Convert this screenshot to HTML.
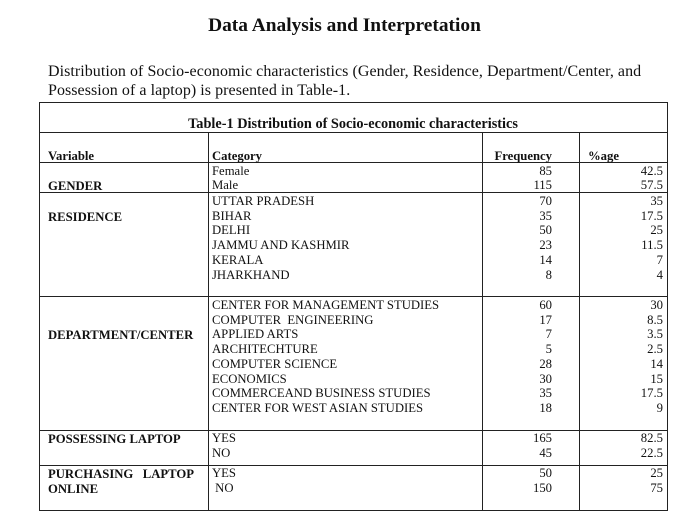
<!DOCTYPE html>
<html><head><meta charset="utf-8"><style>
body{margin:0;width:689px;height:521px;background:#fff;position:relative;font-family:"Liberation Serif",serif;color:#111;overflow:hidden}
.a{position:absolute;white-space:nowrap;line-height:1}
.t{font-size:12.7px}
.b{font-weight:bold}
.r{text-align:right}
.hl{position:absolute;height:1px;background:#222}
.vl{position:absolute;width:1px;background:#222}
</style></head><body>
<div class="a b" style="left:0;width:689px;text-align:center;top:16px;font-size:19.4px">Data Analysis and Interpretation</div>
<div class="a" style="left:48px;top:62px;font-size:16px;line-height:19px;white-space:normal;width:615px;letter-spacing:0.05px">Distribution of Socio-economic characteristics (Gender, Residence, Department/Center, and<br>Possession of a laptop) is presented in Table-1.</div>

<div>
<div class="hl" style="left:39px;width:629px;top:102px"></div>
<div class="hl" style="left:39px;width:629px;top:132px"></div>
<div class="hl" style="left:39px;width:629px;top:162px"></div>
<div class="hl" style="left:39px;width:629px;top:192px"></div>
<div class="hl" style="left:39px;width:629px;top:296px"></div>
<div class="hl" style="left:39px;width:629px;top:430px"></div>
<div class="hl" style="left:39px;width:629px;top:465px"></div>
<div class="hl" style="left:39px;width:629px;top:510px"></div>
<div class="vl" style="left:39px;top:102px;height:409px"></div>
<div class="vl" style="left:667px;top:102px;height:409px"></div>
<div class="vl" style="left:208px;top:132px;height:379px"></div>
<div class="vl" style="left:482px;top:132px;height:379px"></div>
<div class="vl" style="left:579px;top:132px;height:379px"></div>
<div class="a b" style="left:39px;width:628px;text-align:center;top:117px;font-size:14.3px">Table-1 Distribution of Socio-economic characteristics</div>
<div class="a t b" style="left:48px;top:150px">Variable</div>
<div class="a t b" style="left:212px;top:150px">Category</div>
<div class="a t b r" style="left:482px;width:70px;top:150px">Frequency</div>
<div class="a t b r" style="left:579px;width:40px;top:150px">%age</div>
<div id="rows"></div>
</div>
<script>
const groups=[["GENDER",185],["RESIDENCE",216],["DEPARTMENT/CENTER",334],["POSSESSING LAPTOP",438],["PURCHASING&nbsp;&nbsp; LAPTOP<br>ONLINE",473]];
const cats=["Female","Male","UTTAR PRADESH","BIHAR","DELHI","JAMMU AND KASHMIR","KERALA","JHARKHAND","CENTER FOR MANAGEMENT STUDIES","COMPUTER&nbsp; ENGINEERING","APPLIED ARTS","ARCHITECHTURE","COMPUTER SCIENCE","ECONOMICS","COMMERCEAND BUSINESS STUDIES","CENTER FOR WEST ASIAN STUDIES","YES","NO","YES","&nbsp;NO"];
const freq=["85","115","70","35","50","23","14","8","60","17","7","5","28","30","35","18","165","45","50","150"];
const pct=["42.5","57.5","35","17.5","25","11.5","7","4","30","8.5","3.5","2.5","14","15","17.5","9","82.5","22.5","25","75"];
const ys=[172,186,202,217,231,246,261,276,306,321,335,350,365,380,394,409,439,454,474,489];
const R=document.getElementById('rows');
groups.forEach(g=>{const d=document.createElement('div');d.className='a t b';d.style.cssText='left:48px;top:'+(g[1]-6)+'px;line-height:15px';d.innerHTML=g[0];


R.appendChild(d);});
cats.forEach((c,i)=>{const y=ys[i]-7;
const a=document.createElement('div');a.className='a t';a.style.cssText='left:212px;top:'+y+'px';a.innerHTML=c;


R.appendChild(a);
const f=document.createElement('div');f.className='a t r';f.style.cssText='left:482px;width:70px;top:'+y+'px';f.textContent=freq[i];


R.appendChild(f);
const p=document.createElement('div');p.className='a t r';p.style.cssText='left:579px;width:84px;top:'+y+'px';p.textContent=pct[i];


R.appendChild(p);});
</script>
</body></html>
